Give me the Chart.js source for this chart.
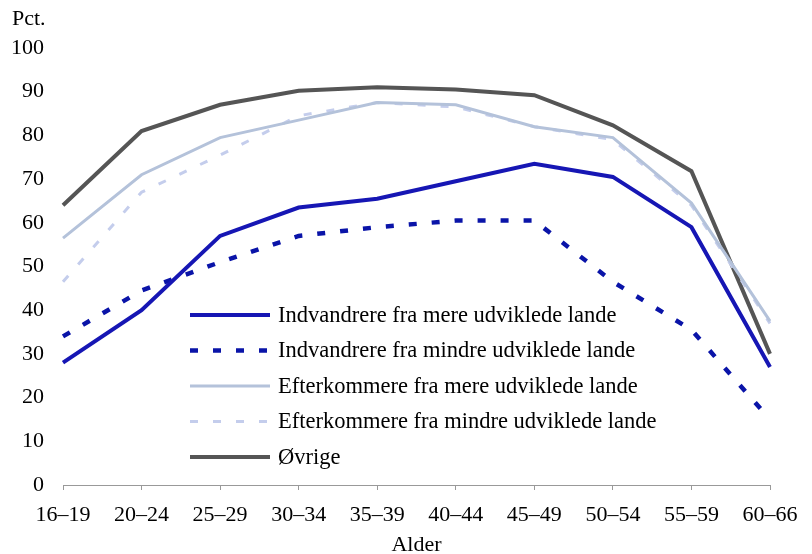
<!DOCTYPE html>
<html>
<head>
<meta charset="utf-8">
<script src="https://cdn.jsdelivr.net/npm/chart.js@4"></script>
<style>
  html, body { margin: 0; padding: 0; background: #ffffff; }
  #wrap { width: 812px; height: 554px; position: relative; }
</style>
</head>
<body>
<div id="wrap"><canvas id="c" width="812" height="554"></canvas></div>
<script>
const categories = ['16–19','20–24','25–29','30–34','35–39','40–44','45–49','50–54','55–59','60–66'];
const seriesNames = [
  'Indvandrere fra mere udviklede lande',
  'Indvandrere fra mindre udviklede lande',
  'Efterkommere fra mere udviklede lande',
  'Efterkommere fra mindre udviklede lande',
  'Øvrige'
];
const indvandrereMere   = [28, 40, 57, 63.5, 65.5, 69.5, 73.5, 70.5, 59, 27];
const indvandrereMindre = [34, 44.5, 51, 57, 59, 60.5, 60.5, 46.5, 35.5, 15];
const efterkommereMere  = [56.5, 71, 79.5, 83.5, 87.5, 87, 82, 79.5, 64.5, 37.5];
const efterkommereMindre= [46.5, 67, 75.5, 84.5, 87.5, 86.5, 82, 79, 64, 37];
const ovrige            = [64, 81, 87, 90.2, 91, 90.5, 89.2, 82.3, 71.8, 30];
const yTicks = [0,10,20,30,40,50,60,70,80,90,100];

const FONT = "'Liberation Serif', 'Times New Roman', serif";

const legendPlugin = {
  id: 'insideLegend',
  afterDraw(chart) {
    const ctx = chart.ctx;
    const x0 = 190, x1 = 270, tx = 278, y0 = 315, dy = 35.5;
    ctx.save();
    ctx.font = '22.5px ' + FONT;
    ctx.textBaseline = 'middle';
    ctx.textAlign = 'left';
    chart.data.datasets.forEach((ds, i) => {
      const y = y0 + i * dy;
      ctx.beginPath();
      ctx.strokeStyle = ds.borderColor;
      ctx.lineWidth = ds.borderWidth;
      ctx.setLineDash(ds.borderDash || []);
      ctx.moveTo(x0, y);
      ctx.lineTo(x1, y);
      ctx.stroke();
      ctx.setLineDash([]);
      ctx.fillStyle = '#000000';
      ctx.fillText(ds.label, tx, y + 1);
    });
    ctx.font = '22px ' + FONT;
    ctx.fillText('Pct.', 12, 19);
    ctx.restore();
  }
};

const ds = (label, data, color, width, dash) => ({
  label, data, borderColor: color, backgroundColor: color, borderWidth: width,
  borderDash: dash, pointRadius: 0, tension: 0, fill: false
});

new Chart(document.getElementById('c'), {
  type: 'line',
  data: {
    labels: categories,
    datasets: [
      ds(seriesNames[0], indvandrereMere, '#1616b4', 4, []),
      ds(seriesNames[1], indvandrereMindre, '#0a14a8', 4.5, [8, 15]),
      ds(seriesNames[2], efterkommereMere, '#b4c2da', 3, []),
      ds(seriesNames[3], efterkommereMindre, '#c4cdec', 3, [8, 15]),
      ds(seriesNames[4], ovrige, '#555555', 4, [])
    ]
  },
  options: {
    responsive: false,
    animation: false,
    layout: { padding: { top: 48, left: 0, right: 42, bottom: 0 } },
    plugins: { legend: { display: false }, title: { display: false }, tooltip: { enabled: false } },
    scales: {
      x: {
        offset: false,
        grid: { display: true, drawOnChartArea: false, drawTicks: true, tickLength: 5, color: '#999999' },
        border: { display: true, color: '#999999', width: 1 },
        ticks: { color: '#000000', font: { family: FONT, size: 22 }, padding: 12, maxRotation: 0, autoSkip: false },
        title: { display: true, text: 'Alder', color: '#000000', font: { family: FONT, size: 22 }, padding: { top: 0, bottom: -4 } },
        afterFit(scale) { scale.height = 69; }
      },
      y: {
        min: 0, max: 100,
        afterBuildTicks(scale) { scale.ticks = yTicks.map(v => ({ value: v })); },
        grid: { display: false, drawTicks: false },
        border: { display: false },
        ticks: { color: '#000000', font: { family: FONT, size: 22 }, padding: 19 },
        afterFit(scale) { scale.width = 63; }
      }
    }
  },
  plugins: [legendPlugin]
});
</script>
</body>
</html>
